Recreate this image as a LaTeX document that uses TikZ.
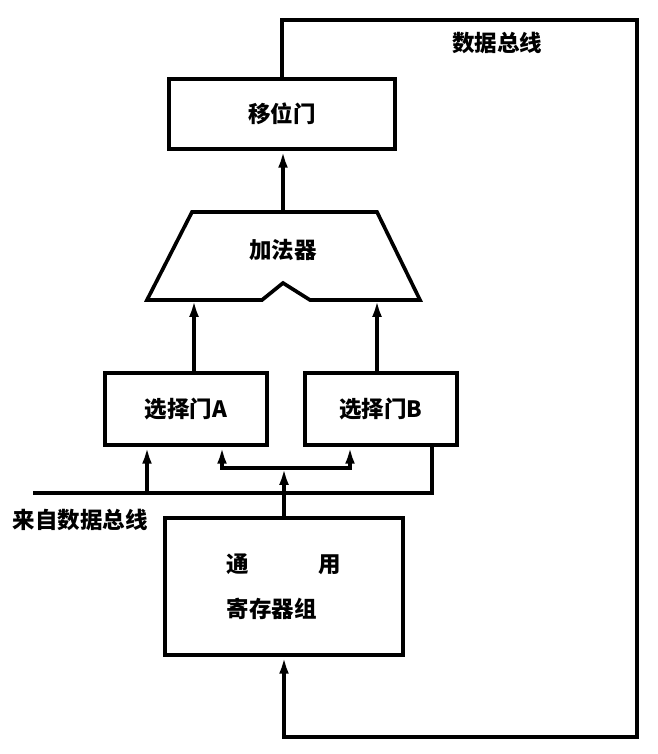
\documentclass[tikz,border=0pt]{standalone}
\usepackage{fontspec}
\newfontfamily\cjk{Noto Sans CJK SC}
\usetikzlibrary{arrows.meta}
\tikzset{
	blk/.style={draw, line width=2.6pt, rectangle, font=\cjk\bfseries\fontsize{16}{19}\selectfont},
	lbl/.style={font=\cjk\bfseries\fontsize{16}{19}\selectfont},
	arr/.style={line width=2.6pt, -{Latex[length=12pt,width=7pt]}},
	bus/.style={line width=2.6pt},
}

\begin{document}
\begin{tikzpicture}[x=0.025cm, y=-0.025cm]
		\useasboundingbox (0,0) rectangle (657,754);
		
		\node[blk, minimum width=5.65cm, minimum height=1.75cm] (shift) at (282,114) {移位门};
		\node[blk, minimum width=4.05cm, minimum height=1.8cm] (selA) at (186,409) {选择门A};
		\node[blk, minimum width=3.8cm, minimum height=1.8cm] (selB) at (381,409) {选择门B};
		\node[blk, minimum width=5.95cm, minimum height=3.425cm, align=left] (reg) at (284,586.5) {通\hspace{3.1em}用\\[13pt]寄存器组};
		
		% adder
		\draw[bus] (192,212) -- (377,212) -- (420,300) -- (310,300) -- (283,283) -- (262,300) -- (147,300) -- cycle;
		\node[lbl] (add) at (283,250) {加法器};
		\coordinate (addtop) at (283,212);
		\coordinate (inA) at (194,300);
		\coordinate (inB) at (377,300);
		
		\draw[arr] (addtop) -- (addtop |- shift.south);
		\draw[arr] (selA.north -| inA) -- (inA);
		\draw[arr] (selB.north -| inB) -- (inB);
		
		% data bus
		\coordinate (bustr) at (637,20);
		\coordinate (busbr) at (637,737);
		\draw[arr] (shift.north) |- (bustr) -- (busbr) -| (reg.south);
		\node[lbl] (bustxt) at (497,43) {数据总线};
		
		% input from bus
		\coordinate (busL) at (33,493);
		\coordinate (busR) at (432,493);
		\coordinate (tapA) at (147,493);
		\draw[bus] (busL) -- (busR) -- (selB.south -| busR);
		\draw[arr] (tapA) -- (selA.south -| tapA);
		\node[lbl, anchor=west] (intxt) at (8,520) {来自数据总线};
		
		% register output
		\coordinate (junc) at (284,468);
		\coordinate (jl) at (222,468);
		\coordinate (jr) at (350,468);
		\draw[arr] (reg.north) -- (junc);
		\draw[arr] (junc) -| (selA.south -| jl);
		\draw[arr] (junc) -| (selB.south -| jr);
	\end{tikzpicture}
\end{document}
